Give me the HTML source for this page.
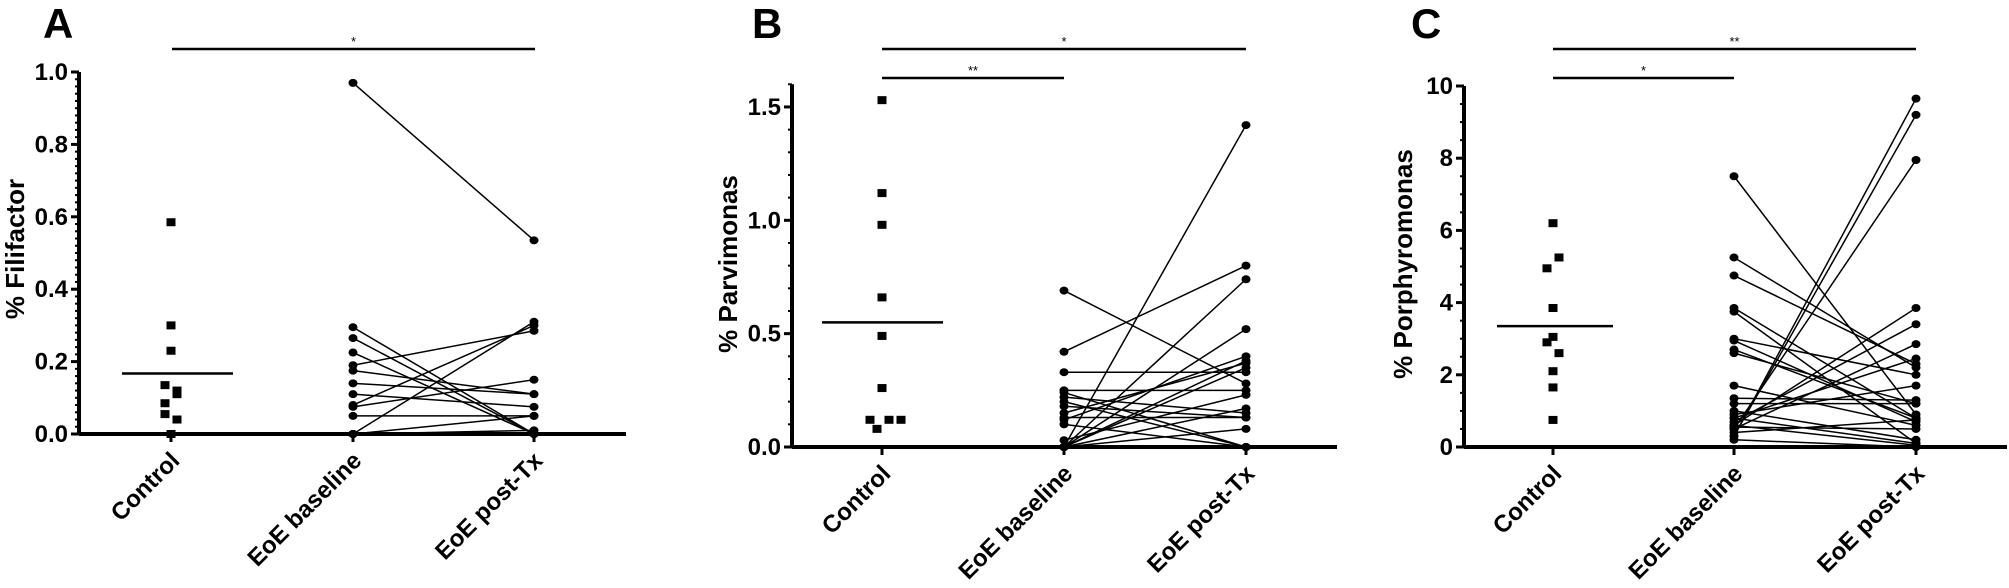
<!DOCTYPE html>
<html><head><meta charset="utf-8"><style>html,body{margin:0;padding:0;background:#fff;overflow:hidden;width:2009px;height:588px}svg{display:block}</style></head>
<body>
<svg id="s" width="2009" height="588" xmlns="http://www.w3.org/2000/svg" font-family="Liberation Sans, Arial, sans-serif"></svg>
<script>
const S=document.getElementById('s');let h='';
function panel(o){
 const {ax,y0,scale,max,cx,end,major,minor,fmt,letter,lx,ylab,ylx,yly,ctrl,mean,pairs,sig}=o;
 const Y=v=>y0-v*scale;
 h+=`<text x="${lx}" y="38" font-size="42" font-weight="bold">${letter}</text>`;
 h+=`<line x1="${ax}" y1="${Y(max)}" x2="${ax}" y2="${y0}" stroke="#000" stroke-width="4"/>`;
 h+=`<line x1="${ax}" y1="${y0}" x2="${end}" y2="${y0}" stroke="#000" stroke-width="4"/>`;
 for(let v=0;v<=max+1e-9;v+=minor){h+=`<line x1="${ax-4}" y1="${Y(v)}" x2="${ax}" y2="${Y(v)}" stroke="#000" stroke-width="2"/>`;}
 for(let v=0;v<=max+1e-9;v+=major){h+=`<line x1="${ax-8}" y1="${Y(v)}" x2="${ax}" y2="${Y(v)}" stroke="#000" stroke-width="3"/>`;
  h+=`<text x="${ax-11}" y="${Y(v)+8}" font-size="24" font-weight="bold" text-anchor="end">${fmt(v)}</text>`;}
 h+=`<text transform="translate(${ylx},${yly}) rotate(-90)" font-size="26" font-weight="bold" text-anchor="middle">${ylab}</text>`;
 ['Control','EoE baseline','EoE post-Tx'].forEach((t,i)=>{const x=cx[i];
  h+=`<line x1="${x}" y1="${y0}" x2="${x}" y2="${y0+8}" stroke="#000" stroke-width="3"/>`;
  h+=`<text transform="translate(${x+10},${y0+28}) rotate(-45)" font-size="24" font-weight="bold" text-anchor="end">${t}</text>`;});
 sig.forEach(s=>{h+=`<line x1="${s[0]}" y1="${s[2]}" x2="${s[1]}" y2="${s[2]}" stroke="#000" stroke-width="2.5"/><text x="${(s[0]+s[1])/2}" y="${s[2]-3}" font-size="13" text-anchor="middle">${s[3]}</text>`;});
 ctrl.forEach(c=>{const x=cx[0]+(c[1]||0);h+=`<rect x="${x-4.5}" y="${Y(c[0])-4}" width="9" height="8"/>`;});
 h+=`<line x1="${mean[1]}" y1="${Y(mean[0])}" x2="${mean[2]}" y2="${Y(mean[0])}" stroke="#000" stroke-width="2.5"/>`;
 pairs.forEach(p=>{h+=`<line x1="${cx[1]}" y1="${Y(p[0])}" x2="${cx[2]}" y2="${Y(p[1])}" stroke="#000" stroke-width="1.5"/>`;
  h+=`<ellipse cx="${cx[1]}" cy="${Y(p[0])}" rx="4.5" ry="4"/><ellipse cx="${cx[2]}" cy="${Y(p[1])}" rx="4.5" ry="4"/>`;});
}
panel({ax:79,y0:434,scale:362,max:1.0,cx:[171,353,534],end:626,major:0.2,minor:0.02,fmt:v=>v.toFixed(1),letter:'A',lx:43,
 ylab:'% Filifactor',ylx:24,yly:249,
 ctrl:[[0.585],[0.30],[0.23],[0.135,-6],[0.12,6],[0.11,6],[0.085,-6],[0.055,-6],[0.04,6],[0.0]],mean:[0.167,122,233],
 pairs:[[0.97,0.535],[0.295,0.0],[0.265,0.0],[0.225,0.0],[0.19,0.285],[0.175,0.11],[0.14,0.11],[0.11,0.075],[0.08,0.30],[0.075,0.15],[0.05,0.05],[0.0,0.31],[0.0,0.05],[0.0,0.01],[0.0,0.0]],
 sig:[[172,535,49,'*']]});
panel({ax:792,y0:447,scale:226.7,max:1.6,cx:[882,1064,1246],end:1337,major:0.5,minor:0.1,fmt:v=>v.toFixed(1),letter:'B',lx:752,
 ylab:'% Parvimonas',ylx:737,yly:264,
 ctrl:[[1.53],[1.12],[0.98],[0.66],[0.49],[0.26],[0.12,-12],[0.08,-5],[0.12,7],[0.12,19]],mean:[0.55,822,943],
 pairs:[[0.69,0.28],[0.42,0.80],[0.33,0.33],[0.25,0.25],[0.24,0.0],[0.22,0.15],[0.20,0.0],[0.18,0.13],[0.15,0.37],[0.13,0.13],[0.12,0.40],[0.10,0.0],[0.03,0.23],[0.0,1.42],[0.0,0.74],[0.0,0.52],[0.0,0.38],[0.0,0.35],[0.0,0.08],[0.0,0.17]],
 sig:[[882,1246,49,'*'],[882,1064,78,'**']]});
panel({ax:1464,y0:447,scale:36.1,max:10,cx:[1553,1734,1916],end:2007,major:2,minor:0.5,fmt:v=>String(v),letter:'C',lx:1411,
 ylab:'% Porphyromonas',ylx:1412,yly:264,
 ctrl:[[6.2],[5.25,6],[4.95,-6],[3.85],[3.05],[2.9,-6],[2.6,6],[2.1],[1.65],[0.75]],mean:[3.35,1497,1613],
 pairs:[[7.5,0.9],[5.25,2.2],[4.75,2.3],[3.85,0.8],[3.75,0.1],[3.0,2.0],[2.95,0.7],[2.7,0.8],[2.6,1.2],[1.7,0.6],[1.35,1.3],[1.2,1.2],[1.0,0.2],[0.8,0.1],[0.6,0.05],[0.55,0.5],[0.3,9.65],[0.3,9.2],[0.5,7.95],[0.6,3.85],[0.7,3.4],[0.5,2.85],[0.8,2.45],[0.9,1.7],[0.4,0.75],[0.2,0.0]],
 sig:[[1553,1916,49,'**'],[1553,1734,78,'*']]});
S.innerHTML=h;
</script>
</body></html>
